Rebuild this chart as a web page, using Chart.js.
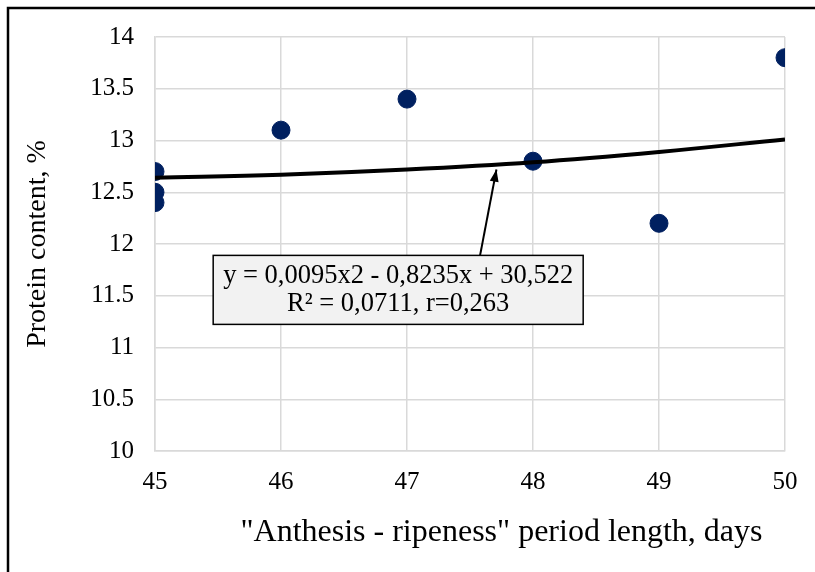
<!DOCTYPE html>
<html>
<head>
<meta charset="utf-8">
<script src="https://cdn.jsdelivr.net/npm/chart.js@4.4.1/dist/chart.umd.min.js"></script>
<style>
  html, body { margin: 0; padding: 0; background: #fff; }
  #wrap { width: 815px; height: 572px; position: relative; }
</style>
</head>
<body>
<div id="wrap"><canvas id="scatterChart"></canvas></div>
<script>
// observed points: period length (days) vs protein content (%)
let days = [45, 45, 45, 46, 47, 48, 49, 50];
let protein = [12.7, 12.5, 12.4, 13.1, 13.4, 12.8, 12.2, 13.8];

// polynomial trend line
let trendDays = [45, 46, 47, 48, 49, 50];
let trendValues = [12.64, 12.67, 12.72, 12.79, 12.89, 13.01];

let xTicks = [45, 46, 47, 48, 49, 50];
let yTicks = [10, 10.5, 11, 11.5, 12, 12.5, 13, 13.5, 14];

let xTitle = '"Anthesis - ripeness" period length, days';
let yTitle = 'Protein content, %';
let eqLines = ['y = 0,0095x2 - 0,8235x + 30,522', 'R\u00b2 = 0,0711, r=0,263'];

let serif = "'Liberation Serif', 'Times New Roman', serif";

let scatterPoints = days.map((d, i) => ({ x: d, y: protein[i] }));
let trendPoints = trendDays.map((d, i) => ({ x: d, y: trendValues[i] }));

// outer frame, x title (sits right of centre in the original), equation box + arrow
let decorPlugin = {
    id: 'decor',
    afterDraw(chart) {
        let c = chart.ctx;
        let xs = chart.scales.x, ys = chart.scales.y;
        c.save();
        c.strokeStyle = '#000';
        c.lineWidth = 2.5;
        c.strokeRect(8, 8, 900, 900);

        c.fillStyle = '#000';
        c.textAlign = 'center';
        c.textBaseline = 'middle';
        c.font = '32px ' + serif;
        c.fillText(xTitle, xs.getPixelForValue(47.75), xs.bottom - 39);

        // equation box
        let cx = xs.getPixelForValue(46.93);
        let top = ys.getPixelForValue(11.89);
        let w = 370, h = 69;
        c.fillStyle = '#f2f2f2';
        c.fillRect(cx - w / 2, top, w, h);
        c.lineWidth = 1.5;
        c.strokeRect(cx - w / 2, top, w, h);
        c.fillStyle = '#000';
        c.font = '26.5px ' + serif;
        c.fillText(eqLines[0], cx, top + 21);
        c.fillText(eqLines[1], cx, top + 49);

        // arrow from box to trend line
        let x0 = xs.getPixelForValue(47.58), y0 = top;
        let x1 = xs.getPixelForValue(47.71), y1 = ys.getPixelForValue(12.72);
        c.lineWidth = 2;
        c.beginPath();
        c.moveTo(x0, y0);
        c.lineTo(x1, y1);
        c.stroke();
        let ang = Math.atan2(y1 - y0, x1 - x0);
        let len = 13;
        c.beginPath();
        c.moveTo(x1, y1);
        c.lineTo(x1 - len * Math.cos(ang - 0.35), y1 - len * Math.sin(ang - 0.35));
        c.lineTo(x1 - len * Math.cos(ang + 0.35), y1 - len * Math.sin(ang + 0.35));
        c.closePath();
        c.fill();
        c.restore();
    }
};

let ctx = document.getElementById('scatterChart').getContext('2d');

let chart = new Chart(ctx, {
    type: 'scatter',
    data: {
        datasets: [{
            data: scatterPoints,
            backgroundColor: '#002060',
            borderColor: '#002060',
            pointRadius: 9,
            order: 2
        }, {
            type: 'line',
            data: trendPoints,
            borderColor: '#000',
            borderWidth: 4,
            pointRadius: 0,
            tension: 0.4,
            fill: false,
            order: 1
        }]
    },
    plugins: [decorPlugin],
    options: {
        responsive: true,
        maintainAspectRatio: false,
        animation: false,
        layout: {
            padding: { left: 0, right: 30, top: 37, bottom: 0 }
        },
        plugins: {
            legend: { display: false },
            tooltip: { enabled: false }
        },
        scales: {
            x: {
                type: 'linear',
                min: 45,
                max: 50,
                afterBuildTicks: (scale) => { scale.ticks = xTicks.map(v => ({ value: v })); },
                afterFit: (scale) => { scale.height = 121; },
                grid: { color: '#d9d9d9', lineWidth: 1.5, drawTicks: false },
                border: { color: '#d9d9d9', width: 1.5 },
                ticks: {
                    padding: 16,
                    color: '#000',
                    font: { family: serif, size: 25 },
                    callback: (v) => String(v)
                }
            },
            y: {
                min: 10,
                max: 14,
                afterBuildTicks: (scale) => { scale.ticks = yTicks.map(v => ({ value: v })); },
                afterFit: (scale) => { scale.width = 155; },
                grid: { color: '#d9d9d9', lineWidth: 1.5, drawTicks: false },
                border: { color: '#d9d9d9', width: 1.5 },
                ticks: {
                    padding: 21,
                    color: '#000',
                    font: { family: serif, size: 25 },
                    callback: (v) => String(v)
                },
                title: {
                    display: true,
                    text: yTitle,
                    color: '#000',
                    font: { family: serif, size: 28 },
                    padding: { top: 21, bottom: 0 }
                }
            }
        }
    }
});
</script>
</body>
</html>
